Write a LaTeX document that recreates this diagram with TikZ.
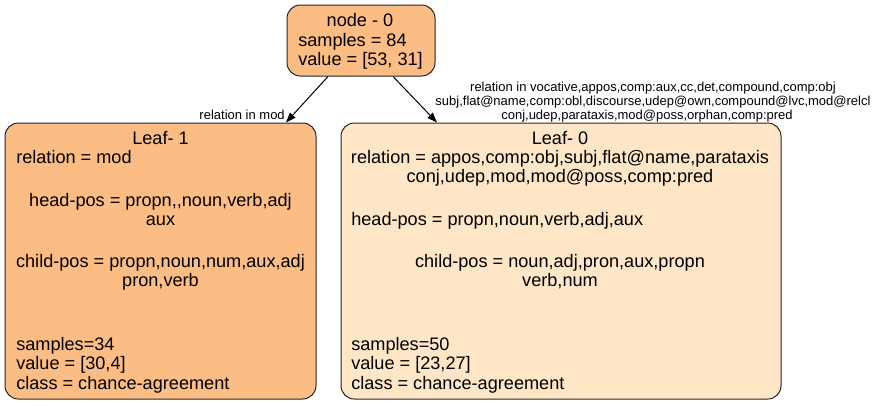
\documentclass[tikz,border=0pt]{standalone}
\usepackage{fontspec}
\setmainfont{Liberation Sans}
\usetikzlibrary{arrows.meta,calc}
\definecolor{leafdark}{RGB}{252,189,133}
\definecolor{leaflight}{RGB}{254,230,199}
\tikzset{
	box/.style={draw=black!85, line width=0.75pt, rounded corners=10pt, inner sep=0pt},
	txt/.style={font=\fontsize{13.6}{16}\selectfont, inner sep=0pt},
	lbl/.style={font=\fontsize{9.75}{12}\selectfont, inner sep=0pt},
	edge/.style={line width=0.75pt, -{Triangle[length=7.5pt,width=5.5pt]}}
}

\begin{document}
\begin{tikzpicture}[x=0.75pt,y=-0.75pt]
			%%%%% START %%%%%
			\useasboundingbox (0,0) rectangle (882,405);
			
			\node[box, fill=leafdark, minimum width=148*0.75pt, minimum height=71*0.75pt] (root) at (361,40.5) {};
			\node[box, fill=leafdark, minimum width=311*0.75pt, minimum height=276*0.75pt] (leaf1) at (160.5,261) {};
			\node[box, fill=leaflight, minimum width=440*0.75pt, minimum height=276*0.75pt] (leaf0) at (561,261) {};
			
			\node[txt, anchor=base] (r0) at (360,26) {node - 0};
			\node[txt, anchor=base west] (r1) at (298,46) {samples = 84};
			\node[txt, anchor=base west] (r2) at (298,65) {value = [53, 31]};
			
			\node[txt, anchor=base] (a0) at (160.5,144) {Leaf- 1};
			\node[txt, anchor=base west] (a1) at (16,163) {relation = mod};
			\node[txt, anchor=base] (a2) at (160.5,206) {head-pos = propn,{},noun,verb,adj};
			\node[txt, anchor=base] (a3) at (160.5,225) {aux};
			\node[txt, anchor=base] (a4) at (160.5,267) {child-pos = propn,noun,num,aux,adj};
			\node[txt, anchor=base] (a5) at (160.5,286) {pron,verb};
			\node[txt, anchor=base west] (a6) at (16,350) {samples=34};
			\node[txt, anchor=base west] (a7) at (16,369) {value = [30,4]};
			\node[txt, anchor=base west] (a8) at (16,389) {class = chance-agreement};
			
			\node[txt, anchor=base] (b0) at (560,144) {Leaf- 0};
			\node[txt, anchor=base] (b1) at (560,163) {relation = appos,comp:obj,subj,flat@name,parataxis};
			\node[txt, anchor=base] (b2) at (560,182) {conj,udep,mod,mod@poss,comp:pred};
			\node[txt, anchor=base west] (b3) at (351,225) {head-pos = propn,noun,verb,adj,aux};
			\node[txt, anchor=base] (b4) at (560,267) {child-pos = noun,adj,pron,aux,propn};
			\node[txt, anchor=base] (b5) at (560,286) {verb,num};
			\node[txt, anchor=base west] (b6) at (351,350) {samples=50};
			\node[txt, anchor=base west] (b7) at (351,369) {value = [23,27]};
			\node[txt, anchor=base west] (b8) at (351,389) {class = chance-agreement};
			
			\draw[edge] ($(root.south)+(-33,0)$) -- ($(leaf1.north)+(125.5,0)$);
			\draw[edge] ($(root.south)+(32,0)$) -- ($(leaf0.north)+(-124,0)$);
			
			\node[lbl, anchor=base east] (e1) at (285,119) {relation in mod};
			\node[lbl, anchor=base] (e2) at (653,91) {relation in vocative,appos,comp:aux,cc,det,compound,comp:obj};
			\node[lbl, anchor=base] (e3) at (653,105) {subj,flat@name,comp:obl,discourse,udep@own,compound@lvc,mod@relcl};
			\node[lbl, anchor=base] (e4) at (647,119) {conj,udep,parataxis,mod@poss,orphan,comp:pred};
			%%%%% END %%%%%
\end{tikzpicture}
\end{document}
